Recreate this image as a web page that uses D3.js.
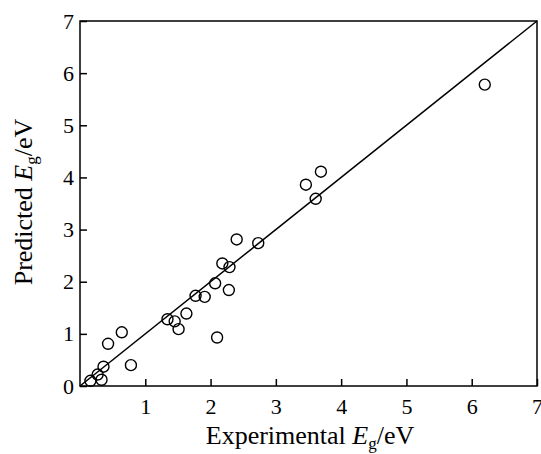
<!DOCTYPE html>
<html>
<meta charset="utf-8">
<head>
  <title>Predicted vs experimental band gap</title>
</head>
<style>
body { margin: 0; background: #fff; }
text { font-family: "Liberation Serif", "Times New Roman", serif; fill: #000; }
</style>
<body>
<svg width="541" height="454"></svg>
<script src="https://cdn.jsdelivr.net/npm/d3@7"></script>
<script>
// experimental vs predicted band gap (eV)
var experimental = [6.20, 3.69, 3.46, 3.61, 2.40, 2.73, 2.18, 2.29, 2.07, 2.28, 1.77, 1.91,
                    1.63, 1.34, 1.45, 1.51, 2.10, 0.64, 0.43, 0.78, 0.36, 0.27, 0.33, 0.16];
var predicted    = [5.78, 4.11, 3.86, 3.59, 2.81, 2.74, 2.35, 2.28, 1.97, 1.84, 1.73, 1.71,
                    1.39, 1.28, 1.24, 1.09, 0.93, 1.03, 0.81, 0.40, 0.37, 0.22, 0.12, 0.10];
var ticks = [0, 1, 2, 3, 4, 5, 6, 7];

var svg = d3.select('svg');
var plotL = 80, plotR = 537, plotT = 21, plotB = 386;

var x = d3.scaleLinear().domain([0, 7]).range([plotL, plotR]);
var y = d3.scaleLinear().domain([0, 7]).range([plotB, plotT]);

// frame
svg.append('rect')
  .attr('x', plotL).attr('y', plotT)
  .attr('width', plotR - plotL).attr('height', plotB - plotT)
  .attr('fill', 'none').attr('stroke', '#000').attr('stroke-width', 1.5);

var xAxis = svg.append('g')
  .attr('transform', 'translate(0,' + plotB + ')')
  .call(d3.axisBottom(x).tickValues(ticks.slice(1)).tickFormat(d3.format('d'))
    .tickSizeInner(-7).tickSizeOuter(0).tickPadding(12));
var yAxis = svg.append('g')
  .attr('transform', 'translate(' + plotL + ',0)')
  .call(d3.axisLeft(y).tickValues(ticks).tickFormat(d3.format('d'))
    .tickSizeInner(-7).tickSizeOuter(0).tickPadding(6));

[xAxis, yAxis].forEach(function(g) {
  g.select('.domain').remove();
  g.selectAll('line').attr('stroke', '#000').attr('stroke-width', 1.5);
  g.selectAll('text').style('font-family', '"Liberation Serif", serif').style('font-size', '22px');
});
xAxis.selectAll('text').attr('dy', '0.71em');

// y = x line
svg.append('line')
  .attr('x1', x(0)).attr('y1', y(0))
  .attr('x2', x(7)).attr('y2', y(7))
  .attr('stroke', '#000').attr('stroke-width', 1.5);

svg.append('g').selectAll('circle')
  .data(experimental)
  .enter().append('circle')
  .attr('cx', function(d) { return x(d); })
  .attr('cy', function(d, i) { return y(predicted[i]); })
  .attr('r', 5.5)
  .attr('fill', 'none')
  .attr('stroke', '#000')
  .attr('stroke-width', 1.4);

// axis titles
var xt = svg.append('text')
  .attr('x', 310).attr('y', 444)
  .attr('text-anchor', 'middle').style('font-size', '26px');
xt.append('tspan').text('Experimental ');
xt.append('tspan').attr('font-style', 'italic').text('E');
xt.append('tspan').attr('dy', 5).style('font-size', '17px').text('g');
xt.append('tspan').attr('dy', -5).text('/eV');

var yt = svg.append('text')
  .attr('transform', 'translate(32,202) rotate(-90)')
  .attr('text-anchor', 'middle').style('font-size', '26px');
yt.append('tspan').text('Predicted ');
yt.append('tspan').attr('font-style', 'italic').text('E');
yt.append('tspan').attr('dy', 5).style('font-size', '17px').text('g');
yt.append('tspan').attr('dy', -5).text('/eV');
</script>
</body>
</html>
